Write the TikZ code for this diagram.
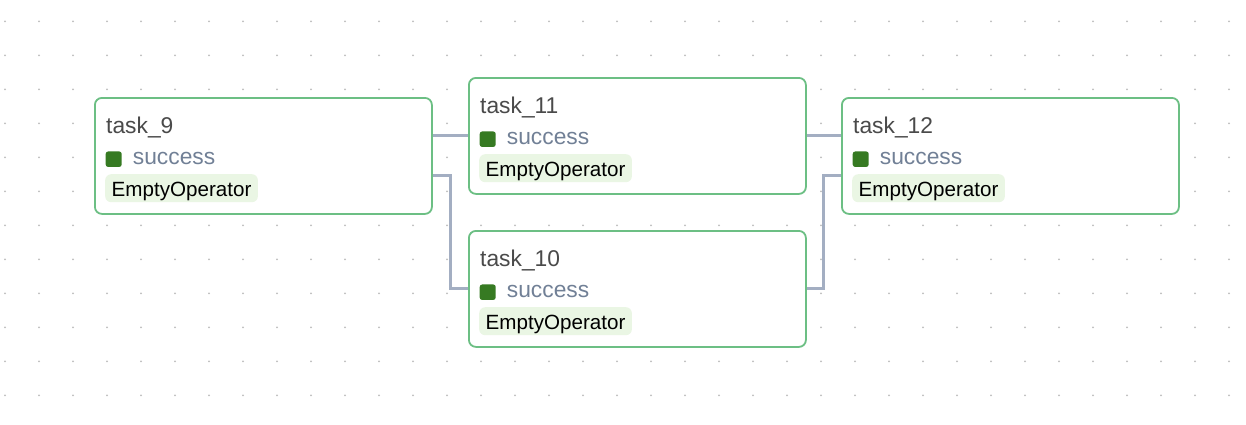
\documentclass[tikz,border=0pt]{standalone}
\usepackage{fontspec}
\setmainfont{Liberation Sans}
\definecolor{bordergreen}{HTML}{6CBF84}
\definecolor{sqgreen}{HTML}{367A22}
\definecolor{tagfill}{HTML}{EAF6E4}
\definecolor{titlegray}{HTML}{4A4A4A}
\definecolor{stategray}{HTML}{718096}
\definecolor{edgegray}{HTML}{A3AEC2}
\definecolor{dotgray}{HTML}{BDBDBD}
\tikzset{
  taskbox/.style={draw=bordergreen, line width=1.8pt, fill=white, rounded corners=7pt,
    minimum width=337pt, minimum height=116pt, anchor=north west, inner sep=0pt},
  tasktitle/.style={anchor=base west, inner sep=0pt, text=titlegray,
    font=\fontsize{22.8pt}{26pt}\selectfont},
  statesq/.style={fill=sqgreen, rounded corners=2.5pt, minimum width=16pt,
    minimum height=15.5pt, inner sep=0pt},
  statetext/.style={anchor=base west, inner sep=0pt, text=stategray,
    font=\fontsize{22.8pt}{26pt}\selectfont},
  optag/.style={anchor=north west, fill=tagfill, rounded corners=6pt, inner xsep=6.5pt,
    inner ysep=0pt, text height=22pt, text depth=6pt, text=black,
    font=\fontsize{20.6pt}{24pt}\selectfont},
  edge/.style={draw=edgegray, line width=3pt},
}
\newcommand{\taskcontent}[2]{%
  \node[tasktitle] (#1n) at ([xshift=12pt,yshift=-36pt]#1.north west) {#2};
  \node[statesq] (#1s) at ([xshift=19.7pt,yshift=-62.2pt]#1.north west) {};
  \node[statetext] (#1st) at ([xshift=38.7pt,yshift=-67.3pt]#1.north west) {success};
  \node[optag] (#1op) at ([xshift=11pt,yshift=-77pt]#1.north west) {EmptyOperator};
}
\begin{document}
\begin{tikzpicture}[x=1pt,y=-1pt]
\useasboundingbox (0,0) rectangle (1246,424);
\fill[white] (0,0) rectangle (1246,424);
\foreach \i in {0,...,36}{
  \foreach \j in {0,...,11}{
    \fill[dotgray] (5+34*\i,21.3+34*\j) circle (1pt);
  }
}
\node[taskbox] (t9) at (94,97) {};
\node[taskbox] (t11) at (468,77) {};
\node[taskbox] (t10) at (468,230) {};
\node[taskbox] (t12) at (841,97) {};
\taskcontent{t9}{task\_9}
\taskcontent{t11}{task\_11}
\taskcontent{t10}{task\_10}
\taskcontent{t12}{task\_12}
\draw[edge] ([yshift=20pt]t9.east) -- (t11.west);
\draw[edge] ([yshift=-20pt]t9.east) -- ++(18pt,0) |- (t10.west);
\draw[edge] (t11.east) -- ([yshift=20pt]t12.west);
\draw[edge] (t10.east) -- ++(17pt,0) |- ([yshift=-20pt]t12.west);
\end{tikzpicture}
\end{document}
